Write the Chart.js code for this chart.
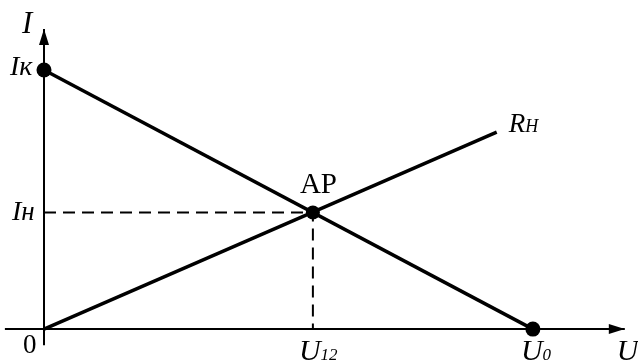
<!DOCTYPE html>
<html>
<head>
<meta charset="utf-8">
<script src="https://cdn.jsdelivr.net/npm/chart.js@4"></script>
<style>
  html, body { margin: 0; padding: 0; background: #fff; }
  #wrap { width: 638px; height: 362px; }
</style>
</head>
<body>
<div id="wrap"><canvas id="canvas"></canvas></div>
<script>
// load line from I_K (U = 0) to U_0 (I = 0)
var loadU = [0, 10];
var loadI = [10, 0];
// resistor line R_H through the origin
var resU = [0, 9.26];
var resI = [0, 7.6];
// working point AP
var apU = [5.5];
var apI = [4.5];
// axis extents (U axis, I axis)
var axisU = [-0.8, 11.88];
var axisI = [-0.62, 11.58];
// visible window
var viewU = [-0.9, 12.15];
var viewI = [-1.27, 12.7];

function pts(us, is) {
	var out = [];
	for (var k = 0; k < us.length; k++) out.push({x: us[k], y: is[k]});
	return out;
}

var labelsPlugin = {
	id: 'labels',
	afterDatasetsDraw: function(chart) {
		var c = chart.ctx;
		var sx = chart.scales.x, sy = chart.scales.y;
		var x0 = sx.getPixelForValue(0), y0 = sy.getPixelForValue(0);
		var xEnd = sx.getPixelForValue(axisU[1]), yEnd = sy.getPixelForValue(axisI[1]);
		c.save();
		c.fillStyle = '#000';
		// arrow heads
		c.beginPath();
		c.moveTo(xEnd, y0); c.lineTo(xEnd - 16, y0 - 5); c.lineTo(xEnd - 16, y0 + 5); c.closePath();
		c.fill();
		c.beginPath();
		c.moveTo(x0, yEnd); c.lineTo(x0 - 5, yEnd + 16); c.lineTo(x0 + 5, yEnd + 16); c.closePath();
		c.fill();

		function lab(main, sub, x, y, size, subSize, italic) {
			var f = '"Liberation Serif", "DejaVu Serif", serif';
			c.textBaseline = 'alphabetic';
			c.textAlign = 'left';
			c.font = (italic ? 'italic ' : '') + size + 'px ' + f;
			c.fillText(main, x, y);
			var w = c.measureText(main).width;
			if (sub) {
				c.font = 'italic ' + subSize + 'px ' + f;
				c.fillText(sub, x + w, y);
			}
		}
		var ikY = sy.getPixelForValue(loadI[0]);
		var ihY = sy.getPixelForValue(apI[0]);
		var apX = sx.getPixelForValue(apU[0]);
		var u0X = sx.getPixelForValue(loadU[1]);
		var rX = sx.getPixelForValue(resU[1]), rY = sy.getPixelForValue(resI[1]);

		lab('I', '', x0 - 22, yEnd + 4, 31, 0, true);
		lab('I', 'к', x0 - 34, ikY + 5, 28, 28, true);
		lab('I', 'н', x0 - 32, ihY + 8, 28, 27, true);
		lab('0', '', x0 - 21, y0 + 24, 27, 0, false);
		lab('AP', '', apX - 13, ihY - 19, 29, 0, false);
		lab('U', '12', apX - 14, y0 + 31, 30, 17, true);
		lab('U', '0', u0X - 12, y0 + 31, 30, 17, true);
		lab('U', '', xEnd - 8, y0 + 31, 30, 0, true);
		lab('R', 'H', rX + 12, rY + 0, 27, 18, true);
		c.restore();
	}
};

var black = '#000';
new Chart('canvas', {
	type: 'scatter',
	data: {
		datasets: [
			{ // U axis
				data: pts(axisU, [0, 0]), showLine: true, borderColor: black, borderWidth: 2,
				pointRadius: 0
			},
			{ // I axis
				data: pts([0, 0], axisI), showLine: true, borderColor: black, borderWidth: 2,
				pointRadius: 0
			},
			{ // dashed lines to AP
				data: [{x: 0, y: apI[0]}, {x: apU[0], y: apI[0]}, {x: apU[0], y: 0}],
				showLine: true, borderColor: black, borderWidth: 2, borderDash: [12, 7],
				pointRadius: 0
			},
			{ // load line
				data: pts(loadU, loadI), showLine: true, borderColor: black, borderWidth: 3.5,
				pointRadius: 7.5, pointBackgroundColor: black, pointBorderWidth: 0
			},
			{ // R_H
				data: pts(resU, resI), showLine: true, borderColor: black, borderWidth: 3.5,
				pointRadius: 0
			},
			{ // AP
				data: pts(apU, apI), pointRadius: 7, pointBackgroundColor: black, pointBorderWidth: 0
			}
		]
	},
	options: {
		responsive: true,
		maintainAspectRatio: false,
		animation: false,
		layout: { padding: 0, autoPadding: false },
		plugins: { legend: { display: false }, tooltip: { enabled: false } },
		scales: {
			x: { type: 'linear', display: false, min: viewU[0], max: viewU[1] },
			y: { type: 'linear', display: false, min: viewI[0], max: viewI[1] }
		}
	},
	plugins: [labelsPlugin]
});
</script>
</body>
</html>
